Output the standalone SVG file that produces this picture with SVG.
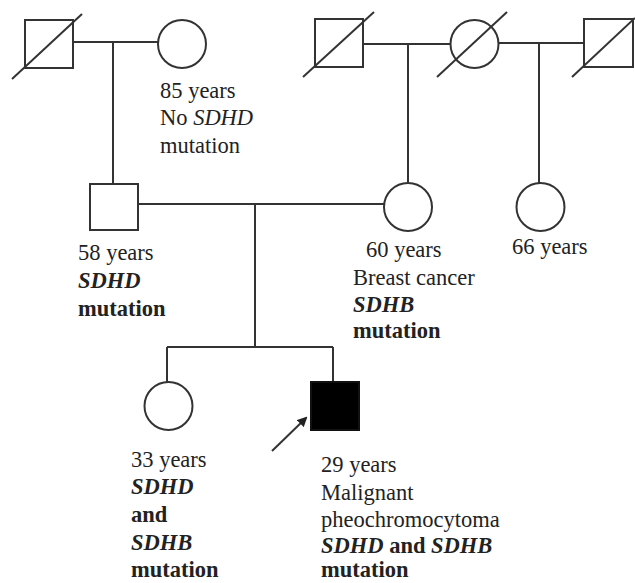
<svg xmlns="http://www.w3.org/2000/svg" width="635" height="583" viewBox="0 0 635 583">
<style>
.s{fill:none;stroke:#333;stroke-width:2}
.f{fill:#000;stroke:#111;stroke-width:2}
.l{fill:none;stroke:#333;stroke-width:2}
text{font-family:"Liberation Serif","Times New Roman",serif;font-size:22.5px;fill:#222}
.b{font-weight:bold}
.i{font-style:italic}
</style>
<defs>
<marker id="ah" markerWidth="10" markerHeight="10" refX="8" refY="5" orient="auto" markerUnits="userSpaceOnUse">
<path d="M0,0 L10,5 L0,10 Z" fill="#222"/>
</marker>
</defs>
<g id="connectors">
<path class="l" d="M73,42 H158"/>
<path class="l" d="M113,42 V184"/>
<path class="l" d="M363,44 H451"/>
<path class="l" d="M408,44 V183"/>
<path class="l" d="M498,43 H584"/>
<path class="l" d="M539,43 V183"/>
<path class="l" d="M138,204 H384"/>
<path class="l" d="M255,204 V347"/>
<path class="l" d="M167,347 H333"/>
<path class="l" d="M167,347 V382"/>
<path class="l" d="M333,347 V382"/>
<path class="l" d="M272,451 L306,418" marker-end="url(#ah)"/>
</g>
<g id="gf1">
<rect class="s" x="25" y="20" width="48" height="48"/>
<path class="l" d="M12,79 L82,14"/>
</g>
<g id="gm1">
<circle class="s" cx="182" cy="44" r="24"/>
<text x="160" y="98">85 years</text>
<text x="160" y="125">No <tspan class="i">SDHD</tspan></text>
<text x="160" y="153">mutation</text>
</g>
<g id="gf2">
<rect class="s" x="315" y="19" width="48" height="48"/>
<path class="l" d="M303,77 L374,12"/>
</g>
<g id="gm2">
<circle class="s" cx="474.5" cy="44" r="24"/>
<path class="l" d="M437,77 L507,12"/>
</g>
<g id="gf3">
<rect class="s" x="584" y="19" width="49" height="48"/>
<path class="l" d="M572,77 L635,18"/>
</g>
<g id="father">
<rect class="s" x="90" y="184" width="48" height="46"/>
<text x="78" y="260">58 years</text>
<text x="78" y="288" class="b i">SDHD</text>
<text x="78" y="316" class="b">mutation</text>
</g>
<g id="mother">
<circle class="s" cx="408" cy="207" r="24"/>
<text x="366" y="257">60 years</text>
<text x="353" y="285">Breast cancer</text>
<text x="353" y="312" class="b i">SDHB</text>
<text x="353" y="338" class="b">mutation</text>
</g>
<g id="aunt">
<circle class="s" cx="540.5" cy="207" r="24"/>
<text x="512" y="254">66 years</text>
</g>
<g id="sister">
<circle class="s" cx="168.5" cy="406" r="24"/>
<text x="131" y="467">33 years</text>
<text x="131" y="494" class="b i">SDHD</text>
<text x="131" y="522" class="b">and</text>
<text x="131" y="550" class="b i">SDHB</text>
<text x="131" y="577" class="b">mutation</text>
</g>
<g id="proband">
<rect class="f" x="311" y="382" width="48" height="48"/>
<text x="321" y="472">29 years</text>
<text x="321" y="500">Malignant</text>
<text x="321" y="527">pheochromocytoma</text>
<text x="321" y="553" class="b"><tspan class="i">SDHD</tspan> and <tspan class="i">SDHB</tspan></text>
<text x="321" y="577" class="b">mutation</text>
</g>
</svg>
